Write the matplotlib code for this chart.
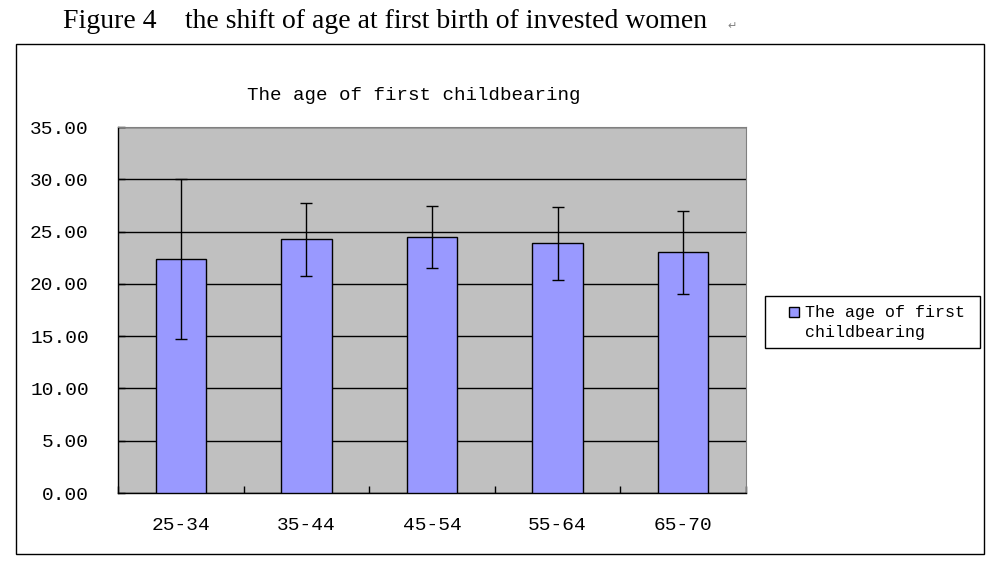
import matplotlib

matplotlib.use("Agg")
import matplotlib.pyplot as plt
import numpy as np
from matplotlib.container import BarContainer
from matplotlib.legend_handler import HandlerPatch
from matplotlib.patches import Rectangle

# values
age_groups = ["25-34", "35-44", "45-54", "55-64", "65-70"]
mean_age = [22.34, 24.26, 24.45, 23.87, 23.01]
err_age = [7.66, 3.52, 2.95, 3.52, 3.97]
y_ticks = [0, 5, 10, 15, 20, 25, 30, 35]

series_name = "The age of first\nchildbearing"
chart_title = "The age of first childbearing"
fig_label = "Figure 4"
fig_caption = "the shift of age at first birth of invested women"

mono = "Liberation Mono"
serif = "Liberation Serif"

W, H = 993, 583
fig = plt.figure(figsize=(W / 100, H / 100), dpi=100)
fig.patch.set_facecolor("white")


def fx(px):
    return px / W


def fy(py):
    return 1 - py / H


def frame_box(x0, y0, x1, y1):
    # plain black box, coords in pixels from top-left
    fig.patches.append(
        Rectangle((fx(x0), fy(y1)), fx(x1) - fx(x0), fy(y0) - fy(y1),
                  transform=fig.transFigure, fill=False, edgecolor="black", linewidth=1.0)
    )


def square_on_first_line(legend, orig_handle, xdescent, ydescent, width, height, fontsize):
    # Excel puts the key next to the first line of a wrapped label
    return Rectangle((-xdescent, -ydescent + 0.66 * fontsize), width, height)


def style_from_bar(tgt, src):
    tgt.update_from(src.patches[0])


frame_box(16, 44, 984, 554)   # chart area
frame_box(765, 296, 980, 348)  # legend box

ax = fig.add_axes([fx(118), fy(493), fx(746) - fx(118), fy(127) - fy(493)])
ax.set_facecolor("#C0C0C0")

x = np.arange(len(age_groups))
bars = ax.bar(x, mean_age, width=0.4, color="#9999FF", edgecolor="black", linewidth=1.0,
              label=series_name, zorder=3)
ax.errorbar(x, mean_age, yerr=err_age, fmt="none", ecolor="black", elinewidth=1.0,
            capsize=4, capthick=1.0, zorder=4)

ax.set_xlim(-0.5, len(age_groups) - 0.5)
ax.set_ylim(0, 35)
ax.set_yticks(y_ticks)
ax.set_yticklabels([f"{v:.2f}" for v in y_ticks], fontfamily=mono, fontsize=14)
ax.yaxis.grid(True, color="black", linewidth=1.0)
ax.set_axisbelow(True)
ax.tick_params(axis="y", direction="in", length=5, width=1, pad=21)

ax.set_xticks(x)
ax.set_xticklabels(age_groups, fontfamily=mono, fontsize=14)
ax.set_xticks(np.arange(-0.5, len(age_groups)), minor=True)
ax.tick_params(axis="x", which="major", length=0, pad=17)
ax.tick_params(axis="x", which="minor", direction="in", length=5, width=1)

for side in ("top", "right"):
    ax.spines[side].set_color("#808080")
for side in ("left", "bottom"):
    ax.spines[side].set_color("black")
    ax.spines[side].set_linewidth(1.0)

key_handler = HandlerPatch(patch_func=square_on_first_line, update_func=style_from_bar)
leg = ax.legend(loc="upper left", bbox_to_anchor=(fx(789), fy(305)),
                bbox_transform=fig.transFigure, prop={"family": mono, "size": 12},
                frameon=False, borderpad=0, handlelength=0.6, handleheight=0.6,
                handletextpad=0.35, borderaxespad=0,
                handler_map={BarContainer: key_handler})
for t in leg.get_texts():
    t.set_linespacing(1.45)

fig.text(fx(414), fy(96), chart_title, ha="center", va="center",
         fontfamily=mono, fontsize=13.8)

fig.text(fx(63), fy(21), fig_label, ha="left", va="center", fontfamily=serif, fontsize=20)
fig.text(fx(185), fy(21), fig_caption, ha="left", va="center", fontfamily=serif, fontsize=20)
fig.text(fx(727), fy(26), "\u21b5", ha="left", va="center", fontsize=8, color="#808080")

fig.savefig("out.png", dpi=100)
